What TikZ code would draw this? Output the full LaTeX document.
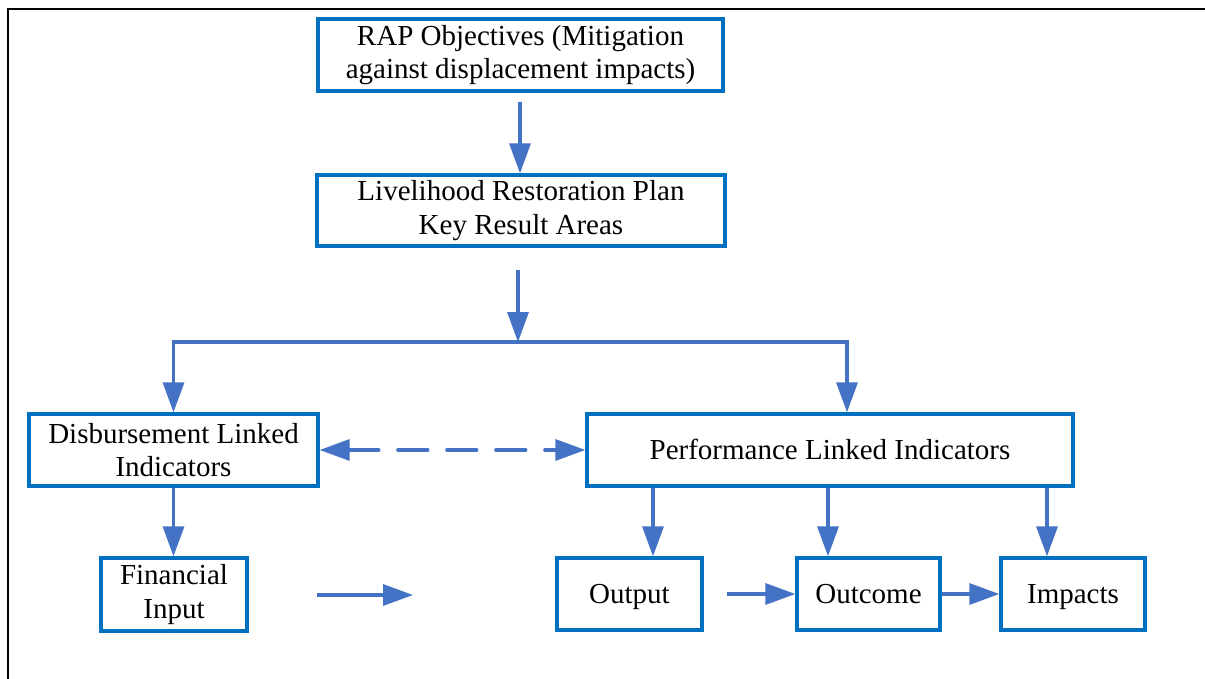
\documentclass[tikz,border=0pt]{standalone}
\usepackage{fontspec}
\setmainfont{Liberation Serif}
\usetikzlibrary{arrows.meta}
\definecolor{boxblue}{HTML}{0070C0}
\definecolor{arrowblue}{HTML}{4472C4}
\tikzset{
  blockbox/.style={draw=boxblue, line width=3.3pt, fill=white, inner sep=0pt,
    align=center, text=black, font=\fontsize{29}{33.5}\selectfont},
  oneline/.style={text height=21.5pt, text depth=2.5pt},
  flowarrow/.style={draw=arrowblue, line width=3.3pt, line join=miter,
    -{Triangle[length=30pt,width=21pt]}},
  flowtwoway/.style={draw=arrowblue, line width=3.3pt, line cap=round,
    dash pattern=on 30pt off 19pt,
    {Triangle[length=30pt,width=21pt]}-{Triangle[length=30pt,width=21pt]}},
}
\begin{document}
\begin{tikzpicture}[x=1pt,y=-1pt]
\useasboundingbox (0,0) rectangle (1205,679);
% page frame
\draw[line width=2.5pt, black] (1205,9) -- (8,9) -- (8,679);

% blocks
\node[blockbox, minimum width=405pt, minimum height=72pt] (rap) at (520.5,55)
  {RAP Objectives (Mitigation\\against displacement impacts)};
\node[blockbox, minimum width=408pt, minimum height=71pt] (lrp) at (521,210.5)
  {Livelihood Restoration Plan\\Key Result Areas};
\node[blockbox, minimum width=289pt, minimum height=72pt] (disb) at (173.5,450)
  {Disbursement Linked\\Indicators};
\node[blockbox, oneline, minimum width=486pt, minimum height=72pt] (perf) at (830,450)
  {Performance Linked Indicators};
\node[blockbox, minimum width=146pt, minimum height=73pt] (fin) at (174,594.5)
  {Financial\\Input};
\node[blockbox, oneline, minimum width=145pt, minimum height=72pt] (out) at (629.5,594)
  {Output};
\node[blockbox, oneline, minimum width=143pt, minimum height=72pt] (outc) at (868.5,594)
  {Outcome};
\node[blockbox, oneline, minimum width=144pt, minimum height=72pt] (imp) at (1073,594)
  {Impacts};

% helper points
\coordinate (split) at (518,342);
\coordinate (rdrop) at (847,342);
\coordinate (d1) at (653,0);
\coordinate (d2) at (828,0);
\coordinate (d3) at (1047,0);
\coordinate (fa) at (317,595);
\coordinate (fb) at (413,595);

% connectors
\draw[flowarrow, shorten <=9pt] (rap.south -| 520,0) -- (520,0 |- lrp.north);
\draw[flowarrow, shorten <=22pt] (lrp.south -| split) -- (split);
\draw[flowarrow] (split) -| (disb.north);
\draw[flowarrow] (split) -- (rdrop) -- (rdrop |- perf.north);
\draw[flowtwoway] (disb.east) -- (perf.west);
\draw[flowarrow] (disb.south) -- (disb.south |- fin.north);
\draw[flowarrow] (perf.south -| d1) -- (d1 |- out.north);
\draw[flowarrow] (perf.south -| d2) -- (d2 |- outc.north);
\draw[flowarrow] (perf.south -| d3) -- (d3 |- imp.north);
\draw[flowarrow] (fa) -- (fb);
\draw[flowarrow, shorten <=23pt] (out.east) -- (outc.west);
\draw[flowarrow] (outc.east) -- (imp.west);
\end{tikzpicture}
\end{document}
